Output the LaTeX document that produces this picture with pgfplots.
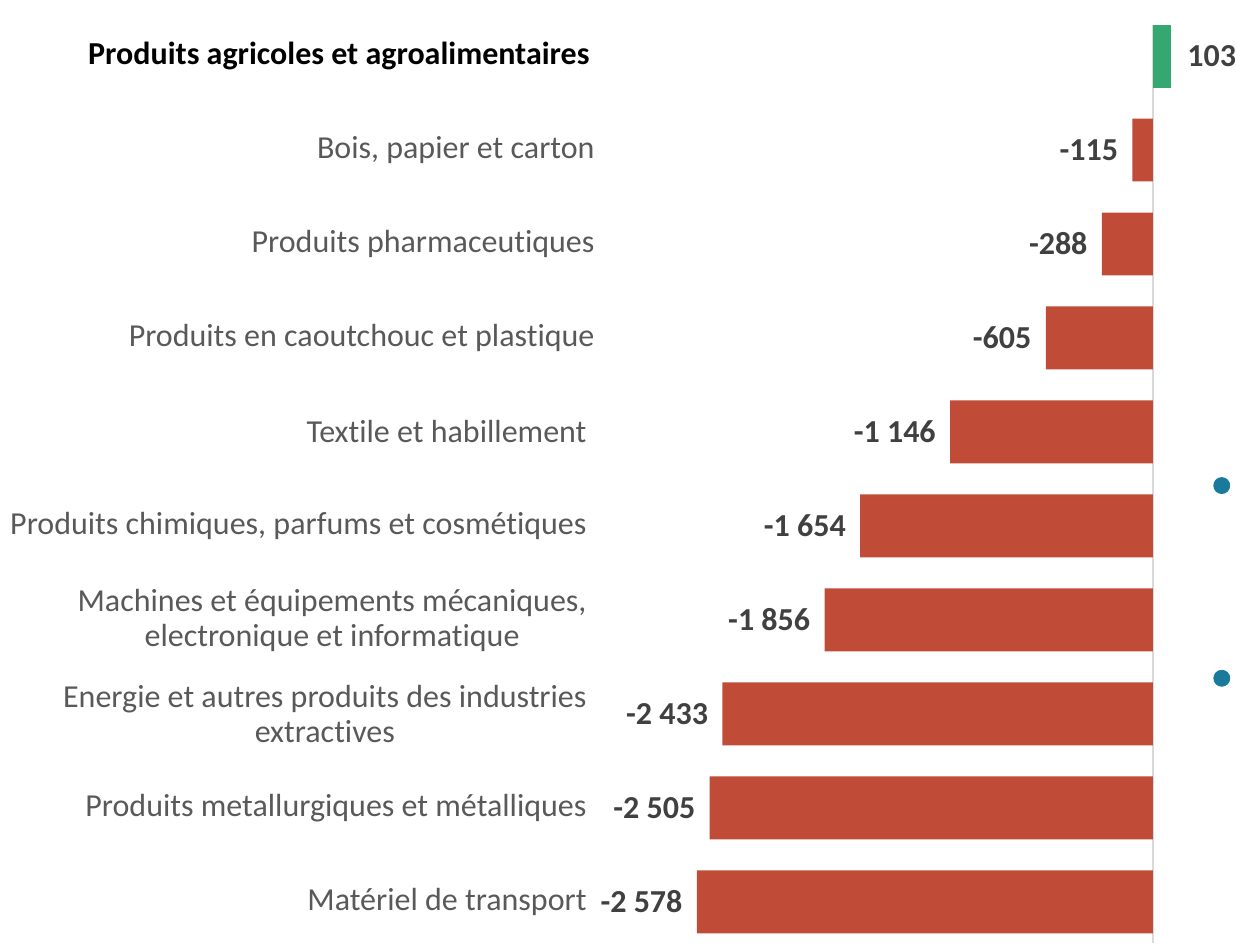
\documentclass[border=0pt]{standalone}
\usepackage{fontspec}
\setmainfont{Carlito}[Ligatures=NoCommon]
\usepackage{pgfplots}
\usepackage{pgfplotstable}
\pgfplotsset{compat=1.18}
\definecolor{barred}{RGB}{192,76,56}
\definecolor{bargreen}{RGB}{52,168,112}
\definecolor{dotblue}{RGB}{26,122,158}
\definecolor{labgray}{RGB}{89,89,89}
\definecolor{numgray}{RGB}{64,64,64}
\definecolor{zerogray}{RGB}{217,217,217}
\pgfplotstableread[col sep=comma]{
x,y,label
-115,8,-115
-288,7,-288
-605,6,-605
-1146,5,-1 146
-1654,4,-1 654
-1856,3,-1 856
-2433,2,-2 433
-2505,1,-2 505
-2578,0,-2 578
}\negdata
\pgfplotstableread[col sep=comma]{
x,y,label
103,9,103
}\posdata
\begin{document}
\begin{tikzpicture}
\begin{axis}[
  scale only axis,
  width=318.5pt, height=471.5pt,
  xmin=-3126, xmax=475,
  ymin=-0.435, ymax=9.596,
  clip=false,
  axis line style={draw=none},
  xtick=\empty,
  ytick={0,1,2,3,4,5,6,7,8,9},
  yticklabels={
    {Matériel de transport\rule{4pt}{0pt}},
    {Produits metallurgiques et métalliques\rule{4pt}{0pt}},
    {Energie et autres produits des industries\rule{4pt}{0pt}\\extractives\rule{4pt}{0pt}},
    {Machines et équipements mécaniques,\rule{4pt}{0pt}\\electronique et informatique\rule{4pt}{0pt}},
    {Produits chimiques, parfums et cosmétiques\rule{4pt}{0pt}},
    {Textile et habillement\rule{4pt}{0pt}},
    {Produits en caoutchouc et plastique},
    {Produits pharmaceutiques},
    {Bois, papier et carton},
    {\color{black}\bfseries Produits agricoles et agroalimentaires\rule{2.5pt}{0pt}}
  },
  major tick length=0pt,
  yticklabel style={align=center, inner sep=0pt, xshift=-2.5pt,
    font=\fontsize{16}{17.5}\selectfont, text=labgray},
  bar width=31.5pt,
  point meta=explicit symbolic,
]
\draw[zerogray, line width=1pt] (axis cs:0,-0.435) -- (axis cs:0,9.33);
\addplot[xbar, bar shift=0pt, fill=barred, draw=none,
  nodes near coords,
  every node near coord/.append style={font=\fontsize{16}{19}\selectfont\bfseries, text=numgray, inner sep=0pt, anchor=east, xshift=-7pt}]
  table[x=x, y=y, meta=label] {\negdata};
\addplot[xbar, bar shift=0pt, fill=bargreen, draw=none,
  nodes near coords,
  every node near coord/.append style={font=\fontsize{16}{19}\selectfont\bfseries, text=numgray, inner sep=0pt, anchor=west, xshift=8pt}]
  table[x=x, y=y, meta=label] {\posdata};
\addplot[only marks, mark=*, mark size=4pt, color=dotblue, mark options={fill=dotblue, draw=dotblue}]
  coordinates {(390,4.43) (390,2.38)};
\end{axis}
\path (current axis.south west) -- ++(-300pt,0pt);
\end{tikzpicture}
\end{document}
